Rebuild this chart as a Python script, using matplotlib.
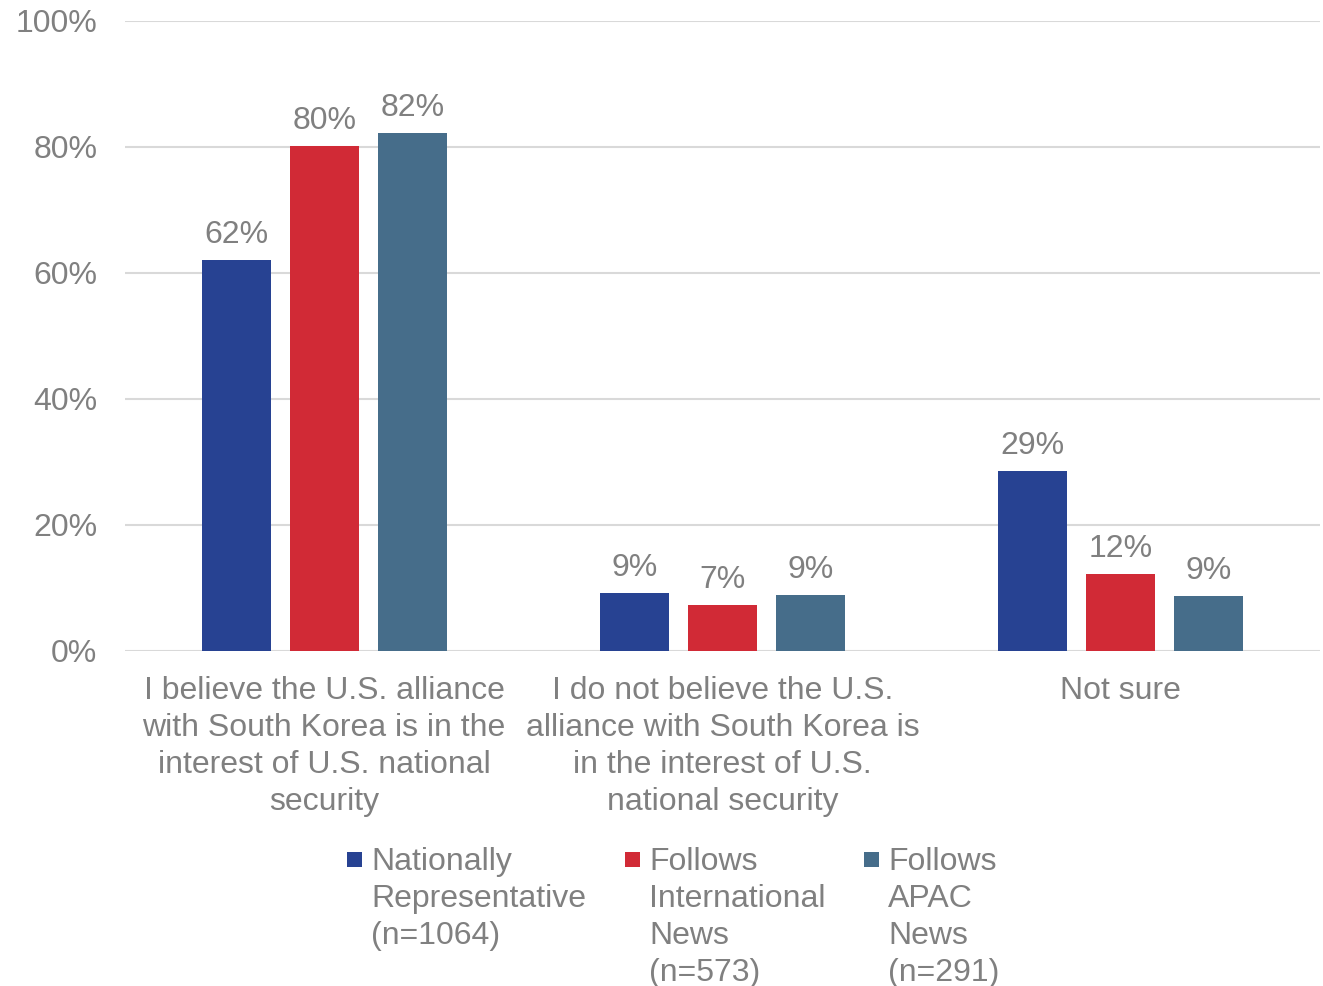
import matplotlib
matplotlib.use("Agg")
import matplotlib.pyplot as plt
from matplotlib.patches import Rectangle

categories = [
    "I believe the U.S. alliance\nwith South Korea is in the\ninterest of U.S. national\nsecurity",
    "I do not believe the U.S.\nalliance with South Korea is\nin the interest of U.S.\nnational security",
    "Not sure",
]
series_names = [
    "Nationally\nRepresentative\n(n=1064)",
    "Follows\nInternational\nNews\n(n=573)",
    "Follows\nAPAC\nNews\n(n=291)",
]
nat_rep = [62.1, 9.2, 28.6]
intl_news = [80.2, 7.3, 12.2]
apac_news = [82.2, 8.9, 8.7]
yticks = [0, 20, 40, 60, 80, 100]

colors = ["#274292", "#D12A36", "#466D8A"]
text_color = "#808080"
grid_color = "#D9D9D9"

plt.rcParams["font.family"] = ["Liberation Sans", "DejaVu Sans"]
FS = 23

fig = plt.figure(figsize=(13.23, 9.86), dpi=100)
W, H = 1323, 986
ax = fig.add_axes([125 / W, 1 - 651 / H, (1320 - 125) / W, (651 - 21) / H])

series = [nat_rep, intl_news, apac_news]
width = 0.173
offsets = [-0.221, 0.0, 0.221]
x = list(range(len(categories)))
for vals, off, c in zip(series, offsets, colors):
    xs = [xi + off for xi in x]
    bars = ax.bar(xs, vals, width=width, color=c, zorder=3)
    for b, v in zip(bars, vals):
        ax.annotate(f"{v:.0f}%", (b.get_x() + b.get_width() / 2, b.get_height()),
                    xytext=(0, 7), textcoords="offset points",
                    ha="center", va="bottom", fontsize=FS, color=text_color)

ax.set_xlim(-0.5, 2.5)
ax.set_ylim(0, 100)
ax.set_yticks(yticks)
ax.set_yticklabels([f"{t}%" for t in yticks], fontsize=FS, color=text_color)
ax.set_xticks(x)
ax.set_xticklabels(categories, fontsize=FS, color=text_color, linespacing=1.31)
ax.tick_params(axis="both", length=0)
ax.tick_params(axis="y", pad=20)
ax.tick_params(axis="x", pad=18)
ax.grid(axis="y", color=grid_color, linewidth=1.5, zorder=0)
for s in ax.spines.values():
    s.set_visible(False)

# legend
leg_x = [347, 625, 864]
for lx, name, c in zip(leg_x, series_names, colors):
    fig.patches.append(Rectangle((lx / W, 1 - 867 / H), 15 / W, 15 / H,
                                 transform=fig.transFigure, facecolor=c,
                                 edgecolor="none"))
    fig.text((lx + 24) / W, 1 - 847 / H, name, fontsize=FS, color=text_color,
             ha="left", va="top", linespacing=1.3)

fig.savefig("out.png", dpi=100)
